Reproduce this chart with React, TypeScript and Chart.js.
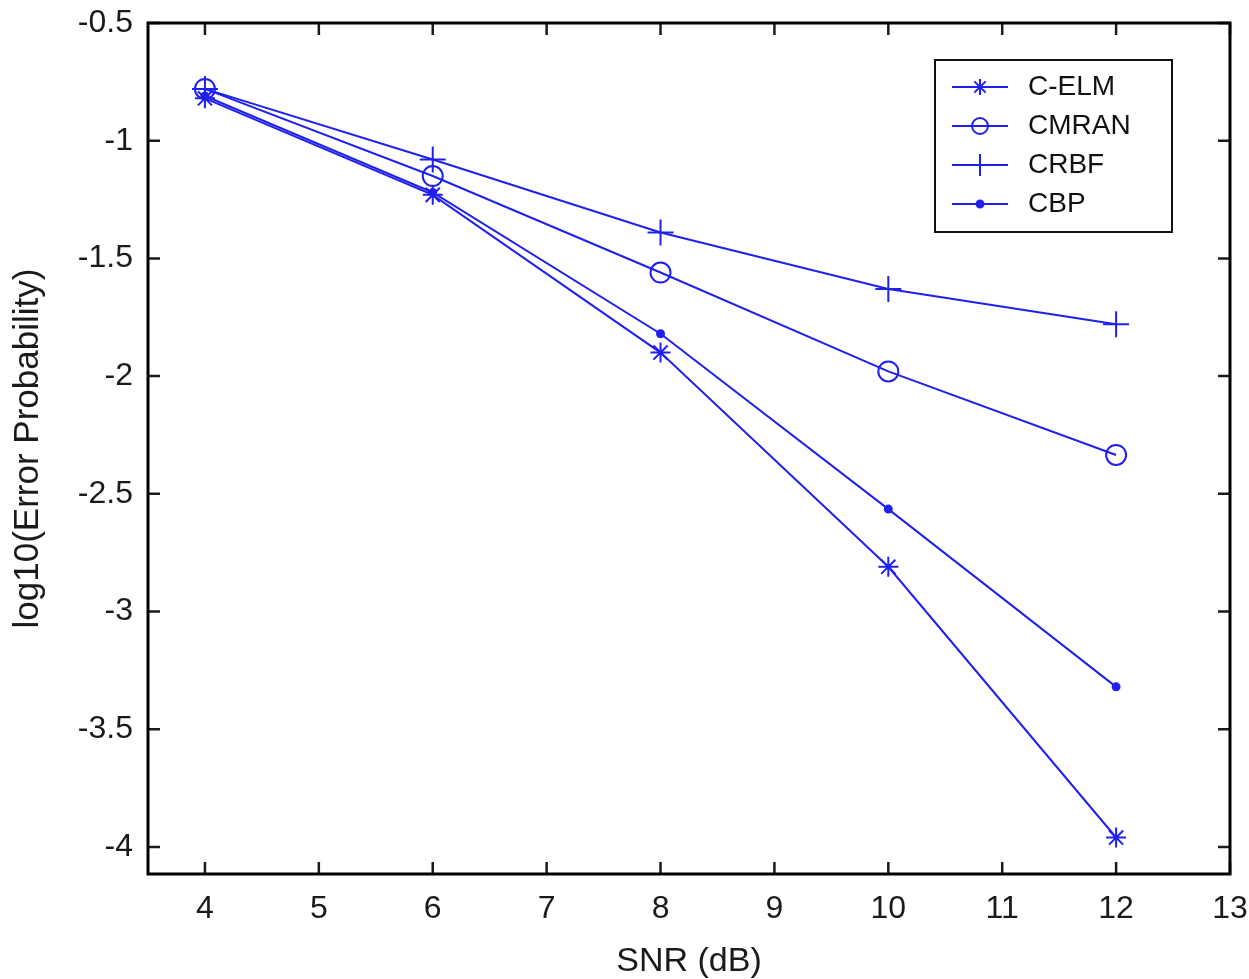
import React, { useEffect, useRef } from "react";
import { Chart, registerables } from "chart.js";
import { drawPoint } from "chart.js/helpers";

Chart.register(...registerables);

const SNR = [4, 6, 8, 10, 12];
const CELM = [-0.82, -1.23, -1.9, -2.81, -3.96];
const CMRAN = [-0.78, -1.15, -1.56, -1.98, -2.335];
const CRBF = [-0.78, -1.08, -1.39, -1.63, -1.78];
const CBP = [-0.81, -1.22, -1.82, -2.565, -3.32];
const SERIES_NAMES = ["C-ELM", "CMRAN", "CRBF", "CBP"];
const X_TICKS = [4, 5, 6, 7, 8, 9, 10, 11, 12, 13];
const Y_TICKS = [-4, -3.5, -3, -2.5, -2, -1.5, -1, -0.5];

const FONT = "'Liberation Sans', Arial, Helvetica, sans-serif";
const BLUE = "#2020ee";

const styles = [
  { pointStyle: "star", radius: 10, legendRadius: 8, fill: false },
  { pointStyle: "circle", radius: 10, legendRadius: 8, fill: false },
  { pointStyle: "cross", radius: 13, legendRadius: 11, fill: false },
  { pointStyle: "circle", radius: 3.5, legendRadius: 3.5, fill: true },
];

const frameAndTicks = {
  id: "frameAndTicks",
  afterDraw(chart: any) {
    const { ctx, chartArea } = chart;
    const { left, right, top, bottom } = chartArea;
    const xs = chart.scales.x;
    const ys = chart.scales.y;
    ctx.save();
    ctx.strokeStyle = "#1a1a1a";
    ctx.lineWidth = 2.5;
    X_TICKS.forEach((v) => {
      const px = xs.getPixelForValue(v);
      ctx.beginPath();
      ctx.moveTo(px, bottom);
      ctx.lineTo(px, bottom - 12);
      ctx.moveTo(px, top);
      ctx.lineTo(px, top + 12);
      ctx.stroke();
    });
    Y_TICKS.forEach((v) => {
      const py = ys.getPixelForValue(v);
      ctx.beginPath();
      ctx.moveTo(left, py);
      ctx.lineTo(left + 12, py);
      ctx.moveTo(right, py);
      ctx.lineTo(right - 12, py);
      ctx.stroke();
    });
    ctx.strokeStyle = "#000";
    ctx.lineWidth = 3;
    ctx.strokeRect(left, top, right - left, bottom - top);

    // legend
    const bx = 935, by = 60, bw = 237, bh = 172;
    ctx.fillStyle = "#fff";
    ctx.fillRect(bx, by, bw, bh);
    ctx.lineWidth = 2;
    ctx.strokeStyle = "#111";
    ctx.strokeRect(bx, by, bw, bh);
    const rows = [87, 126, 165, 204];
    chart.data.datasets.forEach((ds: any, i: number) => {
      const y = rows[i];
      ctx.strokeStyle = BLUE;
      ctx.lineWidth = 2;
      ctx.beginPath();
      ctx.moveTo(952, y);
      ctx.lineTo(1008, y);
      ctx.stroke();
      const st = styles[i];
      ctx.fillStyle = st.fill ? BLUE : "rgba(0,0,0,0)";
      ctx.strokeStyle = BLUE;
      ctx.lineWidth = 2;
      drawPoint(ctx, { pointStyle: st.pointStyle, radius: st.legendRadius, rotation: 0, borderWidth: 2 }, 980, y);
      ctx.fillStyle = "#111";
      ctx.font = `28px ${FONT}`;
      ctx.textBaseline = "middle";
      ctx.textAlign = "left";
      ctx.fillText(ds.label, 1028, y);
    });
    ctx.restore();
  },
};

export default function App() {
  const ref = useRef<HTMLCanvasElement>(null);
  useEffect(() => {
    const seriesVals = [CELM, CMRAN, CRBF, CBP];
    const chart = new Chart(ref.current!, {
      type: "line",
      data: {
        datasets: seriesVals.map((vals, i) => ({
          label: SERIES_NAMES[i],
          data: SNR.map((x, j) => ({ x, y: vals[j] })),
          borderColor: BLUE,
          backgroundColor: styles[i].fill ? BLUE : "rgba(0,0,0,0)",
          borderWidth: 2,
          pointStyle: styles[i].pointStyle as any,
          pointRadius: styles[i].radius,
          pointBorderWidth: 2,
          pointBorderColor: BLUE,
          pointBackgroundColor: styles[i].fill ? BLUE : "rgba(0,0,0,0)",
          tension: 0,
          fill: false,
        })),
      },
      options: {
        animation: false,
        responsive: true,
        maintainAspectRatio: false,
        layout: { padding: { top: 23, right: 19, left: 0, bottom: 0 } },
        plugins: { legend: { display: false }, tooltip: { enabled: false } },
        scales: {
          x: {
            type: "linear",
            min: 3.5,
            max: 13,
            afterBuildTicks: (s: any) => {
              s.ticks = X_TICKS.map((v) => ({ value: v }));
            },
            afterFit: (s: any) => {
              s.height = 105;
              s.paddingLeft = 0;
              s.paddingRight = 0;
            },
            grid: { display: false, drawTicks: false },
            border: { display: false },
            ticks: {
              autoSkip: false,
              maxRotation: 0,
              padding: 16,
              color: "#1a1a1a",
              font: { family: FONT, size: 32 },
              callback: (v: any) => String(v),
            },
            title: {
              display: true,
              text: "SNR (dB)",
              color: "#1a1a1a",
              font: { family: FONT, size: 34, lineHeight: 1 },
              padding: { top: 0, bottom: 0 },
            },
          },
          y: {
            type: "linear",
            min: -4.115,
            max: -0.5,
            afterBuildTicks: (s: any) => {
              s.ticks = Y_TICKS.map((v) => ({ value: v }));
            },
            afterFit: (s: any) => {
              s.width = 148;
              s.paddingTop = 0;
              s.paddingBottom = 0;
            },
            grid: { display: false, drawTicks: false },
            border: { display: false },
            ticks: {
              autoSkip: false,
              padding: 15,
              color: "#1a1a1a",
              font: { family: FONT, size: 32 },
              callback: (v: any) => String(v),
            },
            title: {
              display: true,
              text: "log10(Error Probability)",
              color: "#1a1a1a",
              font: { family: FONT, size: 35, lineHeight: 1 },
              padding: { top: 11, bottom: 0 },
            },
          },
        },
      },
      plugins: [frameAndTicks],
    });
    return () => chart.destroy();
  }, []);
  return (
    <div style={{ position: "absolute", left: 0, top: 0, width: 1249, height: 979, background: "#fff" }}>
      <canvas ref={ref} />
    </div>
  );
}
